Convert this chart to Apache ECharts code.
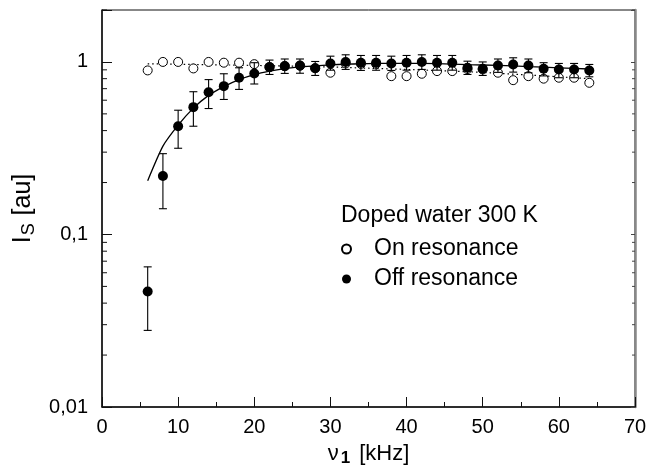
<!DOCTYPE html>
<html>
<head>
<meta charset="utf-8">
<script src="https://cdn.jsdelivr.net/npm/echarts@6/dist/echarts.min.js"></script>
<style>
html,body{margin:0;padding:0;background:#fff;}
#chart{width:651px;height:466px;}
</style>
</head>
<body>
<div id="chart"></div>
<script>
// ---- data ----
var freq = [6,8,10,12,14,16,18,20,22,24,26,28,30,32,34,36,38,40,42,44,46,48,50,52,54,56,58,60,62,64];
var offRes = [0.0467,0.218,0.424,0.547,0.668,0.724,0.81,0.858,0.933,0.946,0.954,0.92,0.98,1.0,0.99,0.99,0.98,0.99,1.0,0.99,0.99,0.925,0.913,0.954,0.967,0.954,0.913,0.905,0.905,0.893];
var offResLow = [0.0278,0.141,0.316,0.424,0.537,0.606,0.693,0.745,0.846,0.858,0.86,0.835,0.896,0.905,0.893,0.895,0.893,0.896,0.905,0.896,0.896,0.846,0.835,0.87,0.873,0.866,0.83,0.81,0.81,0.82];
var offResHigh = [0.0649,0.294,0.525,0.672,0.79,0.854,0.925,0.99,1.025,1.04,1.04,1.006,1.08,1.10,1.09,1.09,1.08,1.09,1.10,1.09,1.09,1.01,1.0,1.04,1.057,1.04,0.99,0.98,0.98,0.967];
var onRes = [0.893,1.0,1.0,0.917,1.0,0.99,0.99,0.971,0.935,0.945,0.95,0.92,0.866,0.98,0.975,0.975,0.827,0.827,0.854,0.885,0.885,0.91,0.905,0.866,0.784,0.827,0.80,0.81,0.81,0.757];
// fitted curves
var offFitX = [6,8,10,12,14,16,18,20,22,24,26,28,30,32,34,36,40,44,48,52,56,60,64];
var offFitY = [0.205,0.325,0.43,0.54,0.64,0.72,0.79,0.845,0.885,0.915,0.935,0.95,0.962,0.97,0.976,0.98,0.982,0.978,0.965,0.955,0.94,0.925,0.91];
var onFitX = [6,10,20,30,40,50,60,64];
var onFitY = [0.975,0.97,0.955,0.935,0.905,0.87,0.82,0.80];
var yTickLabels = {'0.01':'0,01','0.1':'0,1','1':'1'};
var legendTitle = 'Doped water 300 K';
var nameOn = 'On resonance';
var nameOff = 'Off resonance';

// minor tick values of the log axis (2..9 per decade)
var minorTicks = [];
[0.01,0.1,1].forEach(function(d){ for(var k=2;k<=9;k++){ var v=k*d; if(v<=2.0001) minorTicks.push(v);} });

function zip(a,b){ return a.map(function(x,i){return [x,b[i]];}); }

var FONT = '"Liberation Sans", Arial, Helvetica, sans-serif';
var chart = echarts.init(document.getElementById('chart'), null, {renderer:'canvas'});

var option = {
  backgroundColor:'#fff',
  animation:false,
  textStyle:{fontFamily:FONT},
  title:{
    text: legendTitle, left: 336, top: 199,
    textStyle:{fontFamily:FONT, fontSize:23, fontWeight:'normal', color:'#000'}
  },
  legend:{
    orient:'vertical', left: 336, top: 231,
    data:[nameOn, nameOff],
    itemWidth:9, itemHeight:9, itemGap:4,
    textStyle:{fontFamily:FONT, fontSize:23, color:'#000', lineHeight:26, padding:[0,0,0,18]},
    selectedMode:false
  },
  grid:{left:102, right:16, top:10, bottom:59, show:true, borderColor:'#111', borderWidth:1,
        backgroundColor:'transparent', containLabel:false, outerBoundsMode:'none'},
  xAxis:{
    type:'value', min:0, max:70, interval:10,
    axisLine:{lineStyle:{color:'#111', width:1.5}},
    axisTick:{inside:true, length:10, lineStyle:{color:'#111', width:1}},
    minorTick:{show:true, splitNumber:2, length:5, lineStyle:{color:'#111', width:1}},
    splitLine:{show:false},
    axisLabel:{fontFamily:FONT, fontSize:20, color:'#000', margin:10},
    name:'{n|ν}{s|1}{n| [kHz]}',
    nameLocation:'middle', nameGap:31,
    nameTextStyle:{
      rich:{
        n:{fontFamily:FONT, fontSize:22, color:'#000', lineHeight:24},
        s:{fontFamily:FONT, fontSize:17, fontWeight:'bold', color:'#000', lineHeight:24, padding:[8,3,0,2]}
      }
    }
  },
  yAxis:[{
    type:'log', logBase:10, min:0.01, max:2,
    axisLine:{show:true, lineStyle:{color:'#111', width:1.5}},
    axisTick:{inside:true, length:10, lineStyle:{color:'#111', width:1}},
    splitLine:{show:false},
    axisLabel:{fontFamily:FONT, fontSize:20, color:'#000', margin:14,
      formatter:function(v){
        var key = String(+v.toPrecision(6));
        return yTickLabels.hasOwnProperty(key) ? yTickLabels[key] : '';
      }},
    name:'{a|I}{s|S}{a| [au]}',
    nameLocation:'middle', nameGap:56, nameRotate:90,
    nameTextStyle:{
      rich:{
        a:{fontFamily:FONT, fontSize:25, color:'#000'},
        s:{fontFamily:FONT, fontSize:18, color:'#000', padding:[12,1,0,1]}
      }
    }
  },{
    type:'log', logBase:10, min:0.01, max:2, position:'right',
    axisLine:{show:true, lineStyle:{color:'#888', width:2.5}},
    axisTick:{inside:true, length:4, lineStyle:{color:'#444', width:1}},
    axisLabel:{show:false}, splitLine:{show:false}
  }],
  series:[
    {
      type:'line', name:'onFit', data:zip(onFitX,onFitY), symbol:'none', z:1,
      lineStyle:{color:'#000', width:1.2, type:[1.5,3]}, silent:true
    },
    {
      type:'line', name:'offFit', data:zip(offFitX,offFitY), symbol:'none', z:2,
      smooth:0.2, lineStyle:{color:'#000', width:1.3}, silent:true
    },
    {
      type:'scatter', name:nameOn, data:zip(freq,onRes), symbol:'circle', symbolSize:9, z:3,
      itemStyle:{color:'#fff', borderColor:'#000', borderWidth:1, opacity:1}
    },
    {
      type:'custom', name:'errors', z:4, silent:true,
      data: freq.map(function(x,i){return [x, offResLow[i], offResHigh[i]];}),
      encode:{x:0, y:[1,2]},
      renderItem:function(params, api){
        var x = api.value(0);
        var lo = api.coord([x, api.value(1)]);
        var hi = api.coord([x, api.value(2)]);
        var w = 4;
        var st = {stroke:'#000', lineWidth:1.1};
        return {type:'group', children:[
          {type:'line', shape:{x1:lo[0], y1:lo[1], x2:hi[0], y2:hi[1]}, style:st},
          {type:'line', shape:{x1:lo[0]-w, y1:lo[1], x2:lo[0]+w, y2:lo[1]}, style:st},
          {type:'line', shape:{x1:hi[0]-w, y1:hi[1], x2:hi[0]+w, y2:hi[1]}, style:st}
        ]};
      }
    },
    {
      type:'scatter', name:nameOff, data:zip(freq,offRes), symbol:'circle', symbolSize:10, z:5,
      itemStyle:{color:'#000', opacity:1}
    },
    {
      type:'custom', name:'minorTicks', z:6, silent:true, clip:false,
      data: minorTicks.map(function(v){return [0, v];}),
      renderItem:function(params, api){
        var v = api.value(1);
        var l = api.coord([0, v]);
        var r = api.coord([70, v]);
        var st = {stroke:'#111', lineWidth:1};
        return {type:'group', children:[
          {type:'line', shape:{x1:l[0], y1:l[1], x2:l[0]+5, y2:l[1]}, style:st},
          {type:'line', shape:{x1:r[0], y1:r[1], x2:r[0]-3, y2:r[1]}, style:{stroke:'#444', lineWidth:1}}
        ]};
      }
    }
  ]
};
chart.setOption(option);
</script>
</body>
</html>
